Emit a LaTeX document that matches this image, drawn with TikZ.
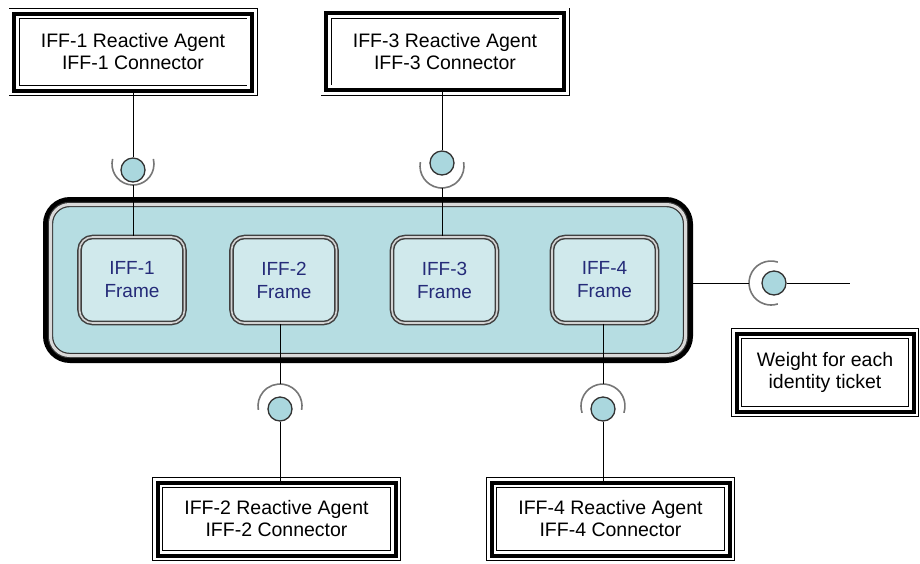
\documentclass[tikz,border=0pt]{standalone}
\usepackage{fontspec}
\setmainfont{Liberation Sans}
\usepackage{tikz}
\usetikzlibrary{calc,positioning}

\definecolor{tealfill}{RGB}{182,221,226}
\definecolor{framefill}{RGB}{208,233,236}
\definecolor{ballfill}{RGB}{170,215,222}
\definecolor{framefont}{RGB}{36,42,120}
\definecolor{socketgray}{RGB}{118,118,118}

\tikzset{
  agentbox/.style={draw=black, line width=4pt, inner sep=0pt, align=center,
    minimum width=238pt, minimum height=77pt,
    font=\fontsize{19.5}{22}\selectfont,
    preaction={draw=black, line width=11pt},
    preaction={draw=white, line width=9.2pt}},
  mainbox/.style={draw=black, line width=6pt, rounded corners=24pt, fill=tealfill,
    minimum width=644pt, minimum height=160pt, inner sep=0pt, outer sep=0pt},
  maininner/.style={draw=black!80, line width=1.2pt, double=gray!30,
    double distance=3pt, rounded corners=19pt},
  framebox/.style={draw=black!75, line width=1.5pt, double=gray!35,
    double distance=1.6pt, rounded corners=13pt, fill=framefill,
    minimum width=105pt, minimum height=86pt, inner sep=0pt, align=center,
    text=framefont, font=\fontsize{19}{23}\selectfont},
  ball/.style={circle, draw=black!80, line width=1.3pt, fill=ballfill,
    minimum size=24pt, inner sep=0pt},
  socket/.style={draw=socketgray, line width=1.6pt},
  wire/.style={draw=black, line width=1pt}
}

\begin{document}
\begin{tikzpicture}[x=1pt,y=-1pt]
  \useasboundingbox (0,0) rectangle (920,563);

  % container with the four frames
  \node[mainbox] (main) at (368,280) {};
  \draw[maininner] ($(main.north west)+(4.5,4.5)$) rectangle ($(main.south east)+(-4.5,-4.5)$);

  \node[framebox] (f1) at (132,280) {IFF-1\\Frame};
  \node[framebox] (f2) at (284,280) {IFF-2\\Frame};
  \node[framebox] (f3) at (444.5,280) {IFF-3\\Frame};
  \node[framebox] (f4) at (604.5,280) {IFF-4\\Frame};

  % reactive agents
  \node[agentbox] (a1) at (133,52) {IFF-1 Reactive Agent\\IFF-1 Connector};
  \node[agentbox] (a3) at (445,51.5) {IFF-3 Reactive Agent\\IFF-3 Connector};
  \node[agentbox, minimum height=73pt] (a2) at (276.5,519) {IFF-2 Reactive Agent\\IFF-2 Connector};
  \node[agentbox, minimum height=73pt] (a4) at (610.5,519) {IFF-4 Reactive Agent\\IFF-4 Connector};
  \node[agentbox, minimum width=177pt, minimum height=78pt] (wt) at (825,372.5) {Weight for each\\identity ticket};

  % balls
  \node[ball] (l1) at (133,170) {};
  \node[ball] (l3) at (442,163) {};
  \node[ball] (l2) at (280,409) {};
  \node[ball] (l4) at (603,409) {};
  \node[ball] (l5) at (774,283) {};

  % sockets
  \coordinate (c1) at (133,164);
  \coordinate (c3) at (442,166);
  \coordinate (c2) at (280,406);
  \coordinate (c4) at (603,406);
  \coordinate (c5) at (771,283);
  \draw[socket] (c1) ++(166:21pt) arc[start angle=166, end angle=374, radius=21pt];
  \draw[socket] (c3) ++(170:22pt) arc[start angle=170, end angle=370, radius=22pt];
  \draw[socket] (c2) ++(-10:22pt) arc[start angle=-10, end angle=190, radius=22pt];
  \draw[socket] (c4) ++(-18:22pt) arc[start angle=-18, end angle=198, radius=22pt];
  \draw[socket] (c5) ++(72:22pt) arc[start angle=72, end angle=288, radius=22pt];
  \path (c1) ++(270:21pt) coordinate (s1);
  \path (c3) ++(270:22pt) coordinate (s3);
  \path (c2) ++(90:22pt) coordinate (s2);
  \path (c4) ++(90:22pt) coordinate (s4);
  \path (c5) ++(180:22pt) coordinate (s5);
  \coordinate (wend) at (850,283);

  % wires
  \draw[wire] (a1.south -| l1) -- (l1);
  \draw[wire] (s1) -- (s1 |- f1.north);
  \draw[wire] (a3.south -| l3) -- (l3);
  \draw[wire] (s3) -- (s3 |- f3.north);
  \draw[wire] (f2.south -| s2) -- (s2);
  \draw[wire] (l2) -- (l2 |- a2.north);
  \draw[wire] (f4.south -| s4) -- (s4);
  \draw[wire] (l4) -- (l4 |- a4.north);
  \draw[wire] (main.east |- s5) -- (s5);
  \draw[wire] (l5) -- (wend);
\end{tikzpicture}
\end{document}
